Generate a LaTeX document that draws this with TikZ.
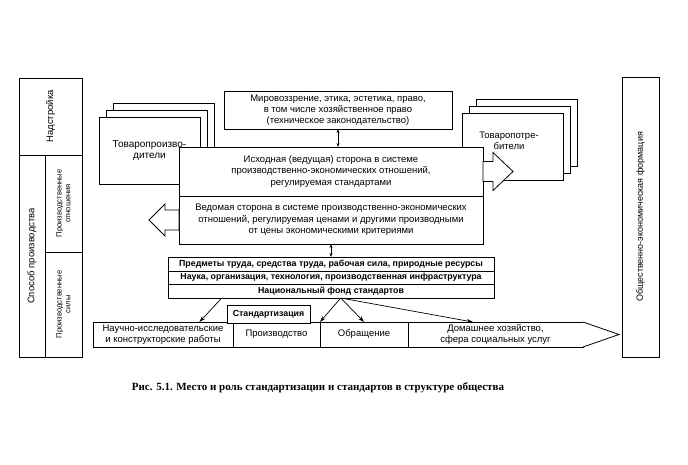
\documentclass[tikz,border=0pt]{standalone}
\usepackage{fontspec}
\setmainfont{Liberation Sans}
\newfontfamily\capfont{Liberation Serif}
\usetikzlibrary{calc, positioning, arrows.meta}

\begin{document}
\begin{tikzpicture}[x=1pt, y=-1pt,
                box/.style={draw, line width=0.8pt, fill=white, inner sep=1pt, outer sep=0pt, align=center, font=\fontsize{9.5}{11}\selectfont},
                sidebox/.style={box, rotate=90, font=\fontsize{9.5}{11}\selectfont},
                row/.style={box, anchor=north, minimum width=326, font=\bfseries\fontsize{8.8}{10}\selectfont},
                cell/.style={box, anchor=north west, minimum height=25},
                pile/.style={box, anchor=north west, minimum width=101, minimum height=67},
                fwd/.style={-{Stealth[length=6pt, width=4pt]}, line width=0.7pt},
                both/.style={{Stealth[length=4pt, width=3pt]}-{Stealth[length=4pt, width=3pt]}, line width=0.6pt},
                fat/.style={draw, line width=0.8pt, fill=white, line join=miter}]
                \useasboundingbox (0,0) rectangle (688,465);
                \node[sidebox, minimum width=77, minimum height=63] (nads) at (50.5,116.5) {Надстройка};
                \node[sidebox, minimum width=202, minimum height=26] (sposob) at (32,256) {Способ производства};
                \node[sidebox, font=\fontsize{7.6}{8.8}\selectfont, minimum width=97, minimum height=37] (otn) at (63.5,203.5) {Производственные\\отношения};
                \node[sidebox, font=\fontsize{7.6}{8.8}\selectfont, minimum width=105, minimum height=37] (sily) at (63.5,304.5) {Производственные\\силы};
                \node[sidebox, font=\fontsize{9}{10}\selectfont, minimum width=280, minimum height=37] (form) at (640.5,217) {Общественно-экономическая формация};
                \node[pile] (potrc) at (476,99) {};
                \node[pile] (potrb) at (469,106) {};
                \node[pile] (potra) at (462,113) {};
                \node[font=\fontsize{9.5}{11}\selectfont, align=center] (potrlbl) at (509,141) {Товаропотре-\\бители};
                \node[pile] (prodc) at (113,103) {};
                \node[pile] (prodb) at (106,110) {};
                \node[pile, font=\fontsize{10}{11.5}\selectfont] (proda) at (99,117) {Товаропроизво-\\дители};
                \node[box, anchor=north west, minimum width=228, minimum height=38] (mir) at (224,91)
                    {Мировоззрение, этика, эстетика, право,\\в том числе хозяйственное право\\(техническое законодательство)};
                \node[box, anchor=north west, minimum width=304, minimum height=49, font=\fontsize{9.5}{11.5}\selectfont] (lead) at (179,147)
                    {Исходная (ведущая) сторона в системе\\производственно-экономических отношений,\\регулируемая стандартами};
                \node[box, anchor=north, minimum width=304, minimum height=48, font=\fontsize{9.5}{11.5}\selectfont, below=0pt of lead] (led)
                    {Ведомая сторона в системе производственно-экономических\\отношений, регулируемая ценами и другими производными\\от цены экономическими критериями};
                \draw[fat] ($(lead.east)+(0,-10)$) -- ++(10,0) -- ++(0,-9) -- ++(20,19) -- ++(-20,19) -- ++(0,-9) -- ++(-10,0) -- cycle;
                \draw[fat] ($(led.west)+(0,-10)$) -- ++(-14,0) -- ++(0,-6) -- ++(-16,16) -- ++(16,16) -- ++(0,-6) -- ++(14,0) -- cycle;
                \node[row, minimum height=14] (res) at (331,257) {Предметы труда, средства труда, рабочая сила, природные ресурсы};
                \node[row, minimum height=13, below=0pt of res] (nauka) {Наука, организация, технология, производственная инфраструктура};
                \node[row, minimum height=14, below=0pt of nauka] (fond) {Национальный фонд стандартов};
                \draw[both] (mir.south) -- (mir.south |- lead.north);
                \draw[both] (led.south) -- (res.north);
                \node[cell, minimum width=140] (nir) at (93,322) {Научно-исследовательские\\и конструкторские работы};
                \node[cell, minimum width=87, right=0pt of nir] (proizv) {Производство};
                \node[cell, minimum width=88, right=0pt of proizv] (obr) {Обращение};
                \node[cell, minimum width=175, right=0pt of obr] (dom) {Домашнее хозяйство,\\сфера социальных услуг};
                \draw[fat] (dom.north east) -- ++(36,12.5) -- (dom.south east);
                \node[box, anchor=north west, minimum width=83, minimum height=18, font=\bfseries\fontsize{8.8}{10}\selectfont] (stand) at (227,305) {Стандартизация};
                \coordinate (f1) at ($(fond.south west)!0.165!(fond.south east)$);
                \coordinate (f2) at ($(fond.south west)!0.53!(fond.south east)$);
                \coordinate (tnir) at ($(nir.north west)!0.76!(nir.north east)$);
                \coordinate (tdom) at ($(dom.north west)!0.37!(dom.north east)$);
                \draw[fwd] (f1) -- (tnir);
                \draw[fwd] (f2) -- (proizv.north east);
                \draw[fwd] (f2) -- (obr.north);
                \draw[fwd] (f2) -- (tdom);
                \node[font=\capfont\bfseries\fontsize{11}{13}\selectfont] (cap) at (318,388)
                    {Рис. 5.1. Место и роль стандартизации и стандартов в структуре общества};
            \end{tikzpicture}
\end{document}
